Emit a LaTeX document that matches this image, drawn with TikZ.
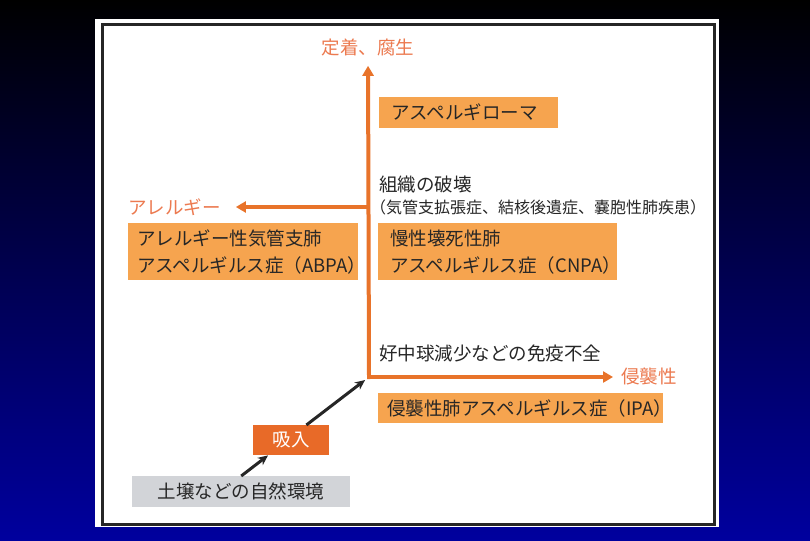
\documentclass[tikz,border=0pt]{standalone}
\usepackage{fontspec}
\setmainfont{Noto Sans CJK JP}
\usetikzlibrary{arrows.meta,positioning}
\definecolor{lineorange}{HTML}{E8732A}
\definecolor{boxorange}{HTML}{F6A44F}
\definecolor{darkorange}{HTML}{E86A28}
\definecolor{labelorange}{HTML}{EC7A50}
\definecolor{soilgray}{HTML}{D2D4D8}
\definecolor{inkgray}{HTML}{262626}
\definecolor{slideblue}{HTML}{00009E}

\begin{document}
\begin{tikzpicture}[
    x=1pt, y=-1pt,
    every node/.style={inner sep=0pt, text=inkgray, font=\fontsize{18.5}{27}\selectfont},
    box/.style={fill=boxorange, anchor=north west, align=left, inner xsep=9pt},
    axis/.style={line width=4pt, lineorange, -{Triangle[length=10pt,width=11pt]}},
    axislabel/.style={text=labelorange},
    feed/.style={line width=3pt, black!85, -{Stealth[length=10pt,width=9pt]}}
]
    % Slide and panel
    \shade[top color=black, bottom color=slideblue] (0,0) rectangle (810,540);
    \fill[white] (95,19) rectangle (719,527);
    \draw[line width=3pt, black!85] (102.5,24.5) rectangle (714,524);

    % Nodes
    \coordinate (hub) at (369,377);
    \node[axislabel] (fixation) at (368,47) {定着、腐生};
    \node[axislabel, anchor=west] (allergy) at (128,207) {アレルギー};
    \node[axislabel, anchor=west] (invasive) at (621,377) {侵襲性};

    \node[box, minimum height=31pt, text width=155pt, inner xsep=12pt] (aspergilloma) at (379,97) {アスペルギローマ};
    \node[box, minimum height=57pt, text width=212pt] (abpa) at (128,223) {アレルギー性気管支肺\\アスペルギルス症（ABPA）};
    \node[box, minimum height=57pt, text width=215pt, inner xsep=12pt] (cnpa) at (378,223) {慢性壊死性肺\\アスペルギルス症（CNPA）};
    \node[box, minimum height=30pt, text width=267pt] (ipa) at (378,393) {侵襲性肺アスペルギルス症（IPA）};

    \node[anchor=west] (damage) at (379,185) {組織の破壊};
    \node[anchor=west, font=\fontsize{16}{20}\selectfont] (damagenote) at (370,207) {（気管支拡張症、結核後遺症、嚢胞性肺疾患）};
    \node[anchor=west] (immune) at (379,353) {好中球減少などの免疫不全};

    \node[fill=darkorange, text=white, minimum width=76pt, minimum height=30pt, anchor=north west] (inhale) at (253,425) {吸入};
    \node[fill=soilgray, minimum width=218pt, minimum height=31pt, anchor=north west] (soil) at (132,476) {土壌などの自然環境};

    % Arrows
    \draw[axis, shorten <=-2pt, shorten >=10pt] (hub) -- (fixation.south);
    \draw[axis, shorten >=15pt] (hub |- allergy.east) -- (allergy.east);
    \draw[axis, shorten <=-2pt, shorten >=8pt] (hub) -- (invasive.west);
    \draw[feed] (soil.north) -- ([xshift=15pt]inhale.south west);
    \draw[feed, shorten >=5pt] ([xshift=-23pt]inhale.north east) -- (hub);
\end{tikzpicture}
\end{document}
